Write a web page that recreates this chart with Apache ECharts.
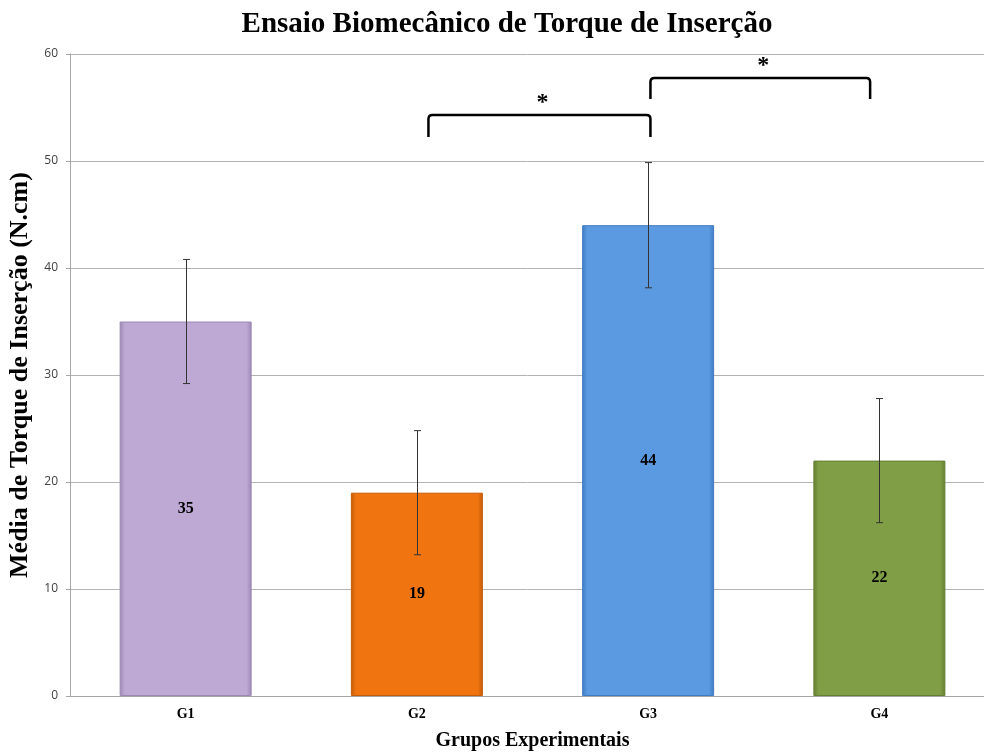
<!DOCTYPE html>
<html>
<head>
<meta charset="utf-8">
<script src="https://cdn.jsdelivr.net/npm/echarts@6/dist/echarts.min.js"></script>
<style>
  html, body { margin: 0; padding: 0; background: #fff; }
  #chart { width: 984px; height: 752px; }
</style>
</head>
<body>
<div id="chart"></div>
<script>
const categories = ['G1', 'G2', 'G3', 'G4'];
const means = [35, 19, 44, 22];
const errors = [5.8, 5.8, 5.85, 5.8];
const barColors = ['#bda9d3', '#f07511', '#5b9ae0', '#7f9e45'];
const edgeColors = ['#9c88b3', '#c55c08', '#3f7cc2', '#647f33'];
// [left category pos, right category pos, bottom value, top value]
const brackets = [
    [1.05, 2.01, 52.25, 54.3],
    [2.01, 2.96, 55.8, 57.75],
];
const bracketMarks = ['*', '*'];

const serif = '"Liberation Serif", "DejaVu Serif", serif';

const barData = means.map((v, i) => ({
    value: v,
    itemStyle: {
        color: {
            type: 'linear', x: 0, y: 0, x2: 1, y2: 0,
            colorStops: [
                { offset: 0, color: edgeColors[i] },
                { offset: 0.04, color: barColors[i] },
                { offset: 0.96, color: barColors[i] },
                { offset: 1, color: edgeColors[i] },
            ],
        },
        borderColor: edgeColors[i],
        borderWidth: 1,
    },
}));

const errorData = means.map((v, i) => [i, v - errors[i], v + errors[i]]);

function renderError(params, api) {
    const lo = api.coord([api.value(0), api.value(1)]);
    const hi = api.coord([api.value(0), api.value(2)]);
    const x = Math.round(lo[0]) + 0.5;
    const cap = 3.5;
    const style = { stroke: '#333', lineWidth: 1 };
    return {
        type: 'group',
        children: [
            { type: 'line', shape: { x1: x, y1: hi[1], x2: x, y2: lo[1] }, style },
            { type: 'line', shape: { x1: x - cap, y1: hi[1], x2: x + cap, y2: hi[1] }, style },
            { type: 'line', shape: { x1: x - cap, y1: lo[1], x2: x + cap, y2: lo[1] }, style },
        ],
    };
}

function catX(api, pos) {
    const base = Math.floor(pos);
    const band = api.size([1, 0])[0];
    return api.coord([base, 0])[0] + (pos - base) * band;
}

function renderBracket(params, api) {
    const x1 = catX(api, api.value(0));
    const x2 = catX(api, api.value(1));
    const yb = api.coord([0, api.value(2)])[1];
    const yt = api.coord([0, api.value(3)])[1];
    const r = 4;
    const path = `M${x1} ${yb} L${x1} ${yt + r} Q${x1} ${yt} ${x1 + r} ${yt} ` +
        `L${x2 - r} ${yt} Q${x2} ${yt} ${x2} ${yt + r} L${x2} ${yb}`;
    return {
        type: 'group',
        children: [
            {
                type: 'path',
                shape: { pathData: path },
                style: { stroke: '#000', lineWidth: 2.5, fill: null },
            },
            {
                type: 'text',
                x: (x1 + x2) / 2 + 3,
                y: yt - 12,
                style: {
                    text: bracketMarks[params.dataIndex],
                    font: 'bold 24px ' + serif,
                    fill: '#000',
                    align: 'center',
                    verticalAlign: 'middle',
                },
            },
        ],
    };
}

const options = {
    animation: false,
    title: {
        text: 'Ensaio Biomecânico de Torque de Inserção',
        left: 502,
        textAlign: 'center',
        top: 5,
        textStyle: { fontFamily: serif, fontWeight: 'bold', fontSize: 29, color: '#000' },
    },
    grid: { left: 70, right: -11, top: 54, bottom: 56, outerBoundsMode: 'none', containLabel: false },
    xAxis: {
        type: 'category',
        data: categories,
        name: 'Grupos Experimentais',
        nameLocation: 'middle',
        nameGap: 35,
        nameTextStyle: { fontFamily: serif, fontWeight: 'bold', fontSize: 20, color: '#000' },
        axisLine: { lineStyle: { color: '#a6a6a6' } },
        axisTick: { show: false },
        axisLabel: { fontFamily: serif, fontWeight: 'bold', fontSize: 14, color: '#000', margin: 11 },
    },
    yAxis: {
        type: 'value',
        min: 0,
        max: 60,
        interval: 10,
        name: 'Média de Torque de Inserção (N.cm)',
        nameLocation: 'middle',
        nameGap: 30,
        nameTextStyle: { fontFamily: serif, fontWeight: 'bold', fontSize: 26, color: '#000' },
        axisLine: { show: true, lineStyle: { color: '#a6a6a6' } },
        axisTick: { show: true, inside: false, length: 4, lineStyle: { color: '#a6a6a6' } },
        axisLabel: { fontFamily: '"Open Sans", "DejaVu Sans", sans-serif', fontSize: 12, color: '#404040', margin: 12 },
        splitLine: { lineStyle: { color: '#b3b3b3' } },
    },
    series: [
        {
            type: 'bar',
            data: barData,
            barWidth: 132,
            label: {
                show: true,
                position: 'inside',
                fontFamily: serif,
                fontWeight: 'bold',
                fontSize: 16,
                color: '#000',
            },
            z: 2,
        },
        {
            type: 'custom',
            renderItem: renderError,
            data: errorData,
            z: 3,
        },
        {
            type: 'custom',
            renderItem: renderBracket,
            data: brackets,
            z: 4,
        },
    ],
};

const chart = echarts.init(document.getElementById('chart'));
chart.setOption(options);
</script>
</body>
</html>
